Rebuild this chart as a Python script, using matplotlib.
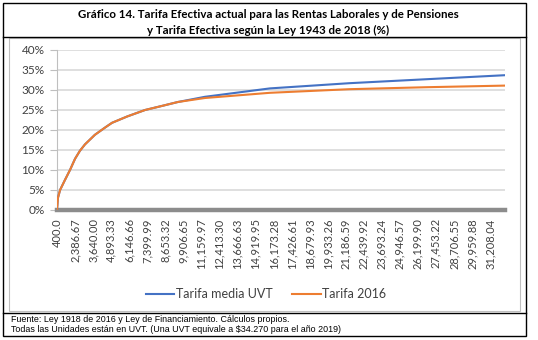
import matplotlib
matplotlib.use("Agg")
import matplotlib.pyplot as plt
from matplotlib.patches import Rectangle
from matplotlib.lines import Line2D
import numpy as np

# etiquetas del eje de categorias (UVT)
etiquetas_uvt = ["400.0", "2,386.67", "3,640.00", "4,893.33", "6,146.66", "7,399.99",
                 "8,653.32", "9,906.65", "11,159.97", "12,413.30", "13,666.63",
                 "14,919.95", "16,173.28", "17,426.61", "18,679.93", "19,933.26",
                 "21,186.59", "22,439.92", "23,693.24", "24,946.57", "26,199.90",
                 "27,453.22", "28,706.55", "29,959.88", "31,208.04"]

# posicion sobre el eje de categorias y tarifa efectiva (%)
posicion = [0, 0.05, 0.17, 0.44, 0.72, 1.0, 1.27, 1.55, 2.1, 2.66, 3.05, 3.9,
            4.88, 5.8, 6.7, 8.2, 11.8, 16.2, 20.5, 24.83]
tarifa_media_uvt = [0, 3.0, 5.0, 7.5, 10.0, 12.8, 14.8, 16.4, 18.8, 20.6, 21.8, 23.4,
                    25.0, 26.0, 27.0, 28.3, 30.4, 31.7, 32.7, 33.7]
tarifa_2016 = [0, 3.0, 5.0, 7.5, 10.0, 12.8, 14.8, 16.4, 18.8, 20.6, 21.8, 23.4,
               25.0, 26.0, 27.0, 28.0, 29.3, 30.2, 30.7, 31.1]

AZUL = "#4472C4"
NARANJA = "#ED7D31"
GRIS = "#D9D9D9"

W, H = 538, 340
fig = plt.figure(figsize=(W / 100, H / 100), dpi=100)

def fx(px):
    return px / W

def fy(py):
    return 1 - py / H

ax = fig.add_axes([fx(57), fy(210), fx(505) - fx(57), fy(50) - fy(210)])

ax.plot(posicion, tarifa_media_uvt, color=AZUL, lw=1.5, label="Tarifa media UVT", zorder=3)
ax.plot(posicion, tarifa_2016, color=NARANJA, lw=1.5, label="Tarifa 2016", zorder=4)

ax.set_xlim(0, 24.83)
ax.set_ylim(0, 40)
ax.set_yticks(np.arange(0, 41, 5))
ax.set_yticklabels([f"{v}%" for v in range(0, 41, 5)], fontfamily="Lato", fontsize=8.5,
                   color="#404040")
ax.set_xticks(range(len(etiquetas_uvt)))
ax.set_xticklabels(etiquetas_uvt, rotation=90, fontfamily="Lato", fontsize=8,
                   color="#404040")
ax.tick_params(axis="x", length=0, pad=6)
ax.tick_params(axis="y", length=5, color="#BFBFBF", pad=4)
ax.grid(axis="y", color=GRIS, lw=1.2, zorder=0)
ax.set_axisbelow(True)
for lado in ["top", "right"]:
    ax.spines[lado].set_visible(False)
ax.spines["left"].set_color("#BFBFBF")
ax.spines["bottom"].set_color("#8C8C8C")
ax.spines["bottom"].set_linewidth(3.2)

ax.legend(loc="center", bbox_to_anchor=(fx(266), fy(294)), bbox_transform=fig.transFigure,
          ncol=2, frameon=False, prop={"family": "Lato", "size": 9},
          handlelength=2.3, handletextpad=0.1, columnspacing=1.6, labelcolor="#404040")

# recuadros del titulo, grafico y notas
fig.add_artist(Rectangle((fx(3), fy(336)), fx(526) - fx(3), fy(3) - fy(336),
                         transform=fig.transFigure, fill=False, ec="black", lw=1.0))
fig.add_artist(Line2D([fx(3), fx(526)], [fy(37), fy(37)], transform=fig.transFigure,
                      color="black", lw=1.0))
fig.add_artist(Line2D([fx(3), fx(526)], [fy(313), fy(313)], transform=fig.transFigure,
                      color="black", lw=1.0))
fig.add_artist(Rectangle((fx(9), fy(311)), fx(520) - fx(9), fy(38) - fy(311),
                         transform=fig.transFigure, fill=False, ec="#BFBFBF", lw=0.8))

fig.text(fx(268), fy(15), "Gráfico 14. Tarifa Efectiva actual para las Rentas Laborales y de Pensiones",
         ha="center", va="center", fontfamily="Lato", fontweight="bold", fontsize=8.3)
fig.text(fx(268), fy(30), "y Tarifa Efectiva según la Ley 1943 de 2018 (%)",
         ha="center", va="center", fontfamily="Lato", fontweight="bold", fontsize=8.3)

fig.text(fx(11), fy(320), "Fuente: Ley 1918 de 2016 y Ley de Financiamiento. Cálculos propios.",
         ha="left", va="center", fontfamily="Liberation Sans", fontsize=6.4)
fig.text(fx(11), fy(329), "Todas las Unidades están en UVT. (Una UVT equivale a $34.270 para el año 2019)",
         ha="left", va="center", fontfamily="Liberation Sans", fontsize=6.4)

fig.savefig("out.png", dpi=100)
